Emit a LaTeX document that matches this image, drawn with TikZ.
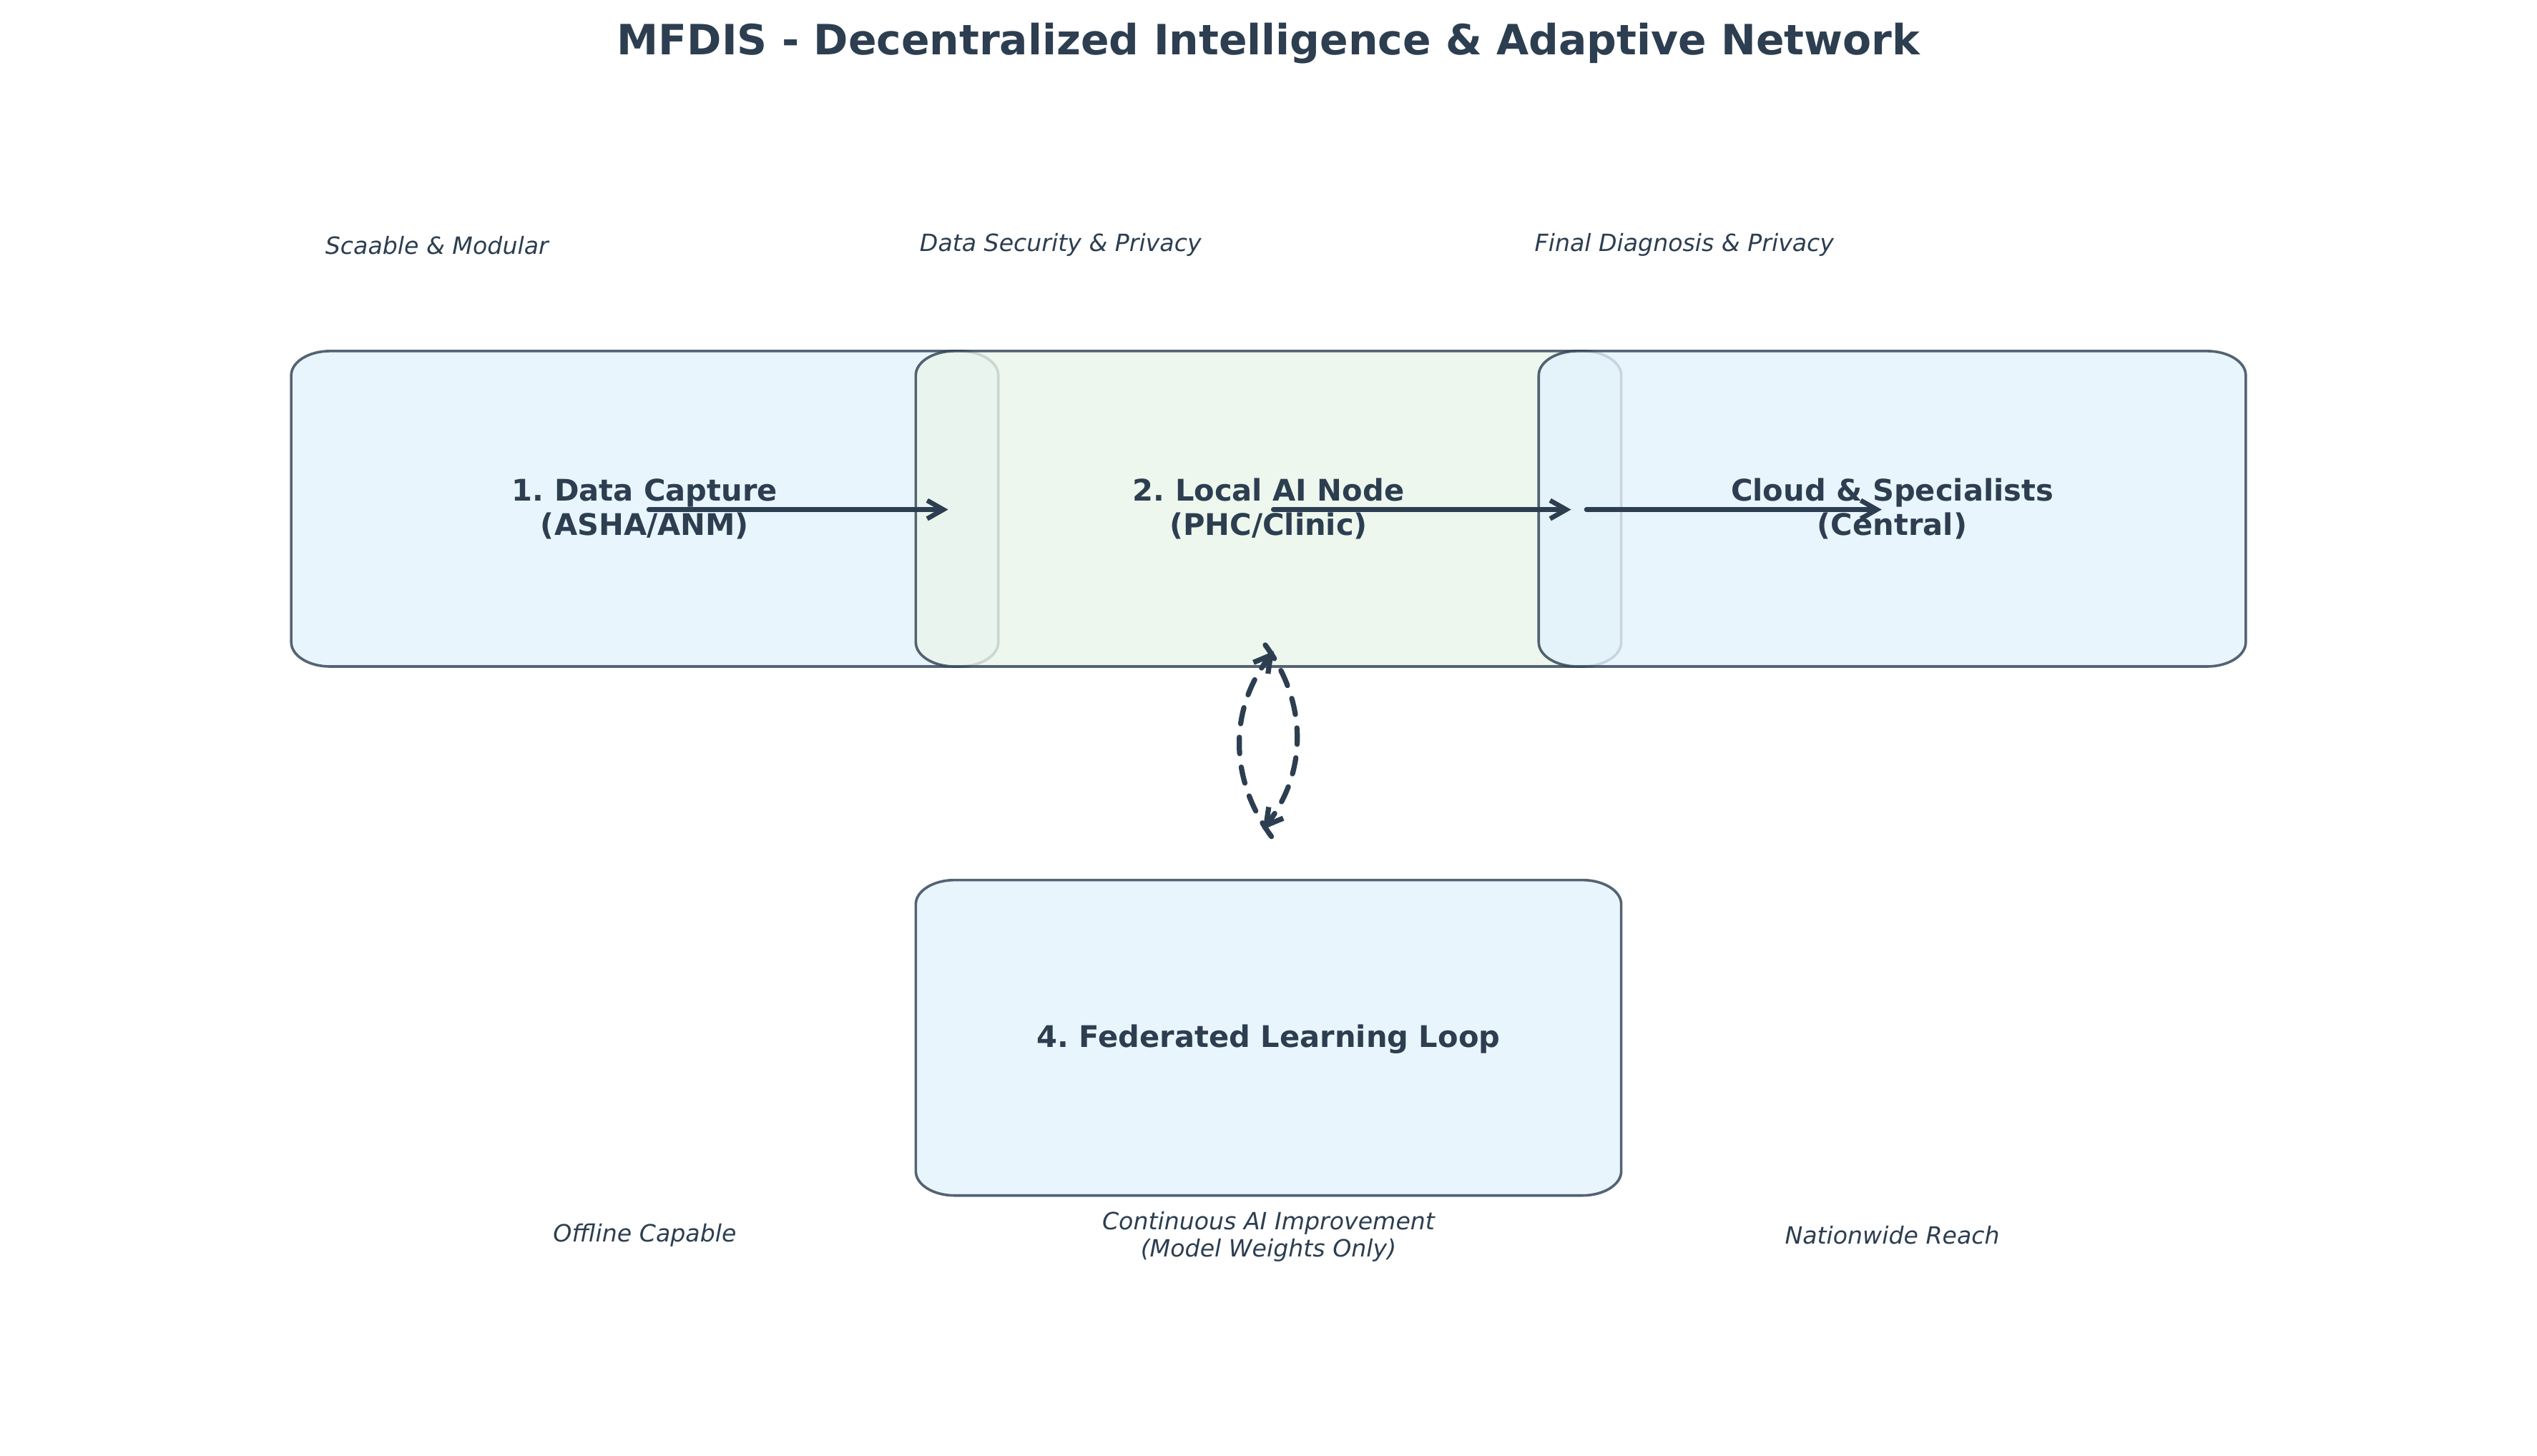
\documentclass[tikz,border=0pt]{standalone}
\usepackage{fontspec}
\setmainfont{DejaVu Sans}
\usetikzlibrary{arrows.meta}
\frenchspacing
\definecolor{inkblue}{HTML}{2C3E50}
\definecolor{paleblue}{HTML}{E3F2FD}
\definecolor{palegreen}{HTML}{E8F5E9}
\tikzset{
  stagebox/.style={draw=inkblue, line width=1.2pt, opacity=0.8},
  stagelabel/.style={font=\fontsize{13.8}{16}\selectfont\bfseries, text=inkblue, align=center, inner sep=0pt},
  notelabel/.style={font=\fontsize{11}{12.75}\selectfont\itshape, text=inkblue, align=center, inner sep=0pt},
  flow/.style={draw=inkblue, line width=2.2pt, line cap=round, -{Straight Barb[length=7.5pt,width=8.5pt]}},
  loopflow/.style={flow, line width=2.4pt, dash pattern=on 7.6pt off 6.3pt},
}
\begin{document}
\begin{tikzpicture}[x=0.75pt,y=0.75pt,yscale=-1,xscale=1]
\useasboundingbox (0,0) rectangle (1568,900); %page of 1568 x 900

%Shape: Rounded Rectangle [capture]
	\draw[stagebox, fill=paleblue] (204,217) -- (593,217) arc[start angle=-90, end angle=0, x radius=24, y radius=15] -- (617,397) arc[start angle=0, end angle=90, x radius=24, y radius=15] -- (204,412) arc[start angle=90, end angle=180, x radius=24, y radius=15] -- (180,232) arc[start angle=180, end angle=270, x radius=24, y radius=15] -- cycle ;
%Shape: Rounded Rectangle [local node]
	\draw[stagebox, fill=palegreen] (590,217) -- (978,217) arc[start angle=-90, end angle=0, x radius=24, y radius=15] -- (1002,397) arc[start angle=0, end angle=90, x radius=24, y radius=15] -- (590,412) arc[start angle=90, end angle=180, x radius=24, y radius=15] -- (566,232) arc[start angle=180, end angle=270, x radius=24, y radius=15] -- cycle ;
%Shape: Rounded Rectangle [cloud]
	\draw[stagebox, fill=paleblue] (975,217) -- (1364,217) arc[start angle=-90, end angle=0, x radius=24, y radius=15] -- (1388,397) arc[start angle=0, end angle=90, x radius=24, y radius=15] -- (975,412) arc[start angle=90, end angle=180, x radius=24, y radius=15] -- (951,232) arc[start angle=180, end angle=270, x radius=24, y radius=15] -- cycle ;
%Shape: Rounded Rectangle [federated loop]
	\draw[stagebox, fill=paleblue] (590,544) -- (978,544) arc[start angle=-90, end angle=0, x radius=24, y radius=15] -- (1002,724) arc[start angle=0, end angle=90, x radius=24, y radius=15] -- (590,739) arc[start angle=90, end angle=180, x radius=24, y radius=15] -- (566,559) arc[start angle=180, end angle=270, x radius=24, y radius=15] -- cycle ;

% Text Node
	\node[anchor=base, text=inkblue, font=\fontsize{19.35}{24}\selectfont\bfseries] (title) at (784,33.8) {MFDIS - Decentralized Intelligence \& Adaptive Network};
% Text Node
	\node[stagelabel] (capture) at (398.5,314.6) {1. Data Capture\\(ASHA/ANM)};
% Text Node
	\node[stagelabel] (localai) at (784,314.6) {2. Local AI Node\\(PHC/Clinic)};
% Text Node
	\node[stagelabel] (cloud) at (1169.5,314.6) {Cloud \& Specialists\\(Central)};
% Text Node
	\node[stagelabel] (fedloop) at (784,642.5) {4. Federated Learning Loop};
% Text Node
	\node[notelabel] (scalable) at (270,151.5) {Scaable \& Modular};
% Text Node
	\node[notelabel] (security) at (655.5,151.5) {Data Security \& Privacy};
% Text Node
	\node[notelabel] (diagnosis) at (1041,151.5) {Final Diagnosis \& Privacy};
% Text Node
	\node[notelabel] (offline) at (398.5,763.5) {Offline Capable};
% Text Node
	\node[notelabel] (improve) at (784,764.5) {Continuous AI Improvement\\(Model Weights Only)};
% Text Node
	\node[notelabel] (reach) at (1169.5,763.5) {Nationwide Reach};

%Straight Lines
	\coordinate (captureOut) at (401,315);
	\coordinate (captureTip) at (586,315);
	\coordinate (localOut) at (787,315);
	\coordinate (localTip) at (971,315);
	\coordinate (cloudIn) at (980.5,315);
	\coordinate (cloudTip) at (1163,315);
	\draw[flow] (captureOut) -- (captureTip);
	\draw[flow] (localOut) -- (localTip);
	\draw[flow] (cloudIn) -- (cloudTip);
%Curve Lines
	\coordinate (syncTop) at (782,398.7);
	\coordinate (syncBot) at (780.5,512.8);
	\coordinate (pushBot) at (785.8,517.1);
	\coordinate (pushTop) at (787.3,402.5);
	\draw[loopflow] (syncTop) to[bend right=37] (syncBot);
	\draw[loopflow] (pushBot) to[bend right=37] (pushTop);

\end{tikzpicture}
\end{document}
